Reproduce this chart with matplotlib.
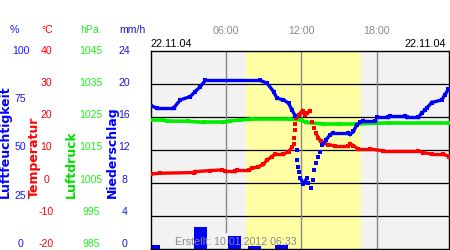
import numpy as np
import matplotlib
matplotlib.use("Agg")
import matplotlib.pyplot as plt
from matplotlib.collections import LineCollection

# ---------------- data ----------------
date_label = "22.11.04"
created_label = "Erstellt: 10.01.2012 06:33"
time_ticks = [6, 12, 18]
time_labels = ["06:00", "12:00", "18:00"]
daylight = (7.62, 16.76)

hum_ticks = [0, 25, 50, 75, 100]
temp_ticks = [-20, -10, 0, 10, 20, 30, 40]
pres_ticks = [985, 995, 1005, 1015, 1025, 1035, 1045]
rain_ticks = [0, 4, 8, 12, 16, 20, 24]

hum_h = [0.04, 0.52, 1.84, 2.37, 3.16, 3.56, 3.96, 4.36, 8.73, 9.26, 9.79, 10.06, 10.58,
         10.98, 11.25, 11.51, 11.65, 11.69, 11.77, 11.85, 11.93, 12.17, 12.44, 12.57, 12.76,
         12.89, 13.02, 13.18, 13.36, 13.5, 13.68, 13.97, 14.29, 14.55, 15.75, 15.88, 16.14,
         16.41, 16.68, 16.94, 17.87, 18.0, 18.93, 19.06, 20.25, 20.39, 21.31, 21.58, 21.84,
         21.98, 22.38, 23.17, 23.43, 23.7]
hum_v = [72.1, 71.0, 71.0, 75.1, 76.8, 79.3, 81.8, 84.9, 84.9, 83.6, 79.3, 76.0, 75.1,
         73.5, 70.1, 67.1, 49.9, 44.9, 41.5, 38.7, 35.7, 32.8, 35.7, 33.1, 30.6,
         34.8, 39.8, 43.2, 46.5, 49.1, 52.4, 55.0, 57.5, 58.6, 58.6, 57.8, 59.2,
         62.5, 63.9, 64.7, 64.7, 66.4, 66.4, 67.1, 67.1, 66.4, 66.4, 68.4, 70.1,
         71.0, 73.8, 75.1, 77.7, 80.5]

temp_h = [0.04, 0.78, 3.43, 3.56, 4.75, 5.68, 5.95, 6.74, 6.88, 7.8, 8.07, 8.59, 8.99, 9.26,
          9.66, 9.92, 10.58, 10.98, 11.25, 11.38, 11.45, 11.49, 11.53, 11.6, 11.78, 12.1,
          12.28, 12.48, 12.66, 12.85, 13.0, 13.16, 13.36, 13.55, 13.76, 14.16, 14.69, 15.75,
          15.88, 16.14, 16.54, 17.47, 18.53, 21.31, 21.71, 22.38, 23.3, 23.77]
temp_v = [2.7, 2.9, 3.1, 3.4, 3.7, 3.9, 3.5, 3.5, 3.9, 3.9, 4.4, 4.9, 5.6, 6.9,
          7.9, 8.7, 8.7, 9.4, 10.7, 11.7, 13.5, 16.0, 17.8, 19.5, 20.5, 21.8,
          20.5, 21.1, 21.8, 18.5, 16.5, 15.0, 13.5, 12.5, 12.0, 11.5, 11.2, 11.2,
          11.8, 11.2, 10.2, 10.2, 9.7, 9.7, 9.1, 8.7, 8.7, 7.9]

pres_h = [0.04, 1.0, 1.3, 3.0, 4.22, 5.81, 6.34, 7.14, 8.07, 11.0, 12.0, 12.34, 13.76,
          15.0, 16.4, 17.6, 19.0, 23.75]
pres_v = [1024.0, 1024.0, 1023.7, 1023.6, 1023.3, 1023.3, 1023.7, 1024.0, 1024.3, 1024.3,
          1024.0, 1023.3, 1022.8, 1022.8, 1022.8, 1023.0, 1023.1, 1023.1]

rain_h = [0.26, 4.0, 6.7, 8.25, 10.4]
rain_v = [0.5, 2.7, 1.6, 0.4, 0.45]

# ---------------- style ----------------
W, H = 450, 250
REG = "Liberation Sans"
BLUE = "#0000ff"
RED = "#ff0000"
GREEN = "#00ee00"
GRAY_TXT = "#8a8a8a"
XMAX = 23.75

fig = plt.figure(figsize=(W / 100, H / 100), dpi=100)
fig.patch.set_facecolor("white")

ax_l, ax_r, ax_t, ax_b = 150.5, 449.0, 50.5, 249.0
ax = fig.add_axes([ax_l / W, (H - ax_b) / H, (ax_r - ax_l) / W, (ax_b - ax_t) / H])
ax.set_facecolor("#f2f2f2")
ax.set_xlim(0, XMAX)
ax.set_ylim(rain_ticks[0], rain_ticks[-1])
ax.axvspan(*daylight, color="#ffffa3", lw=0, zorder=0.5)
for v in rain_ticks[1:-1]:
    ax.axhline(v, color="black", lw=0.9, zorder=1)
for t in time_ticks:
    ax.axvline(t, color="#888888", lw=1.0, zorder=1.1, ymin=0.086 if t == 6 else 0)
ax.bar(rain_h, rain_v, width=1.05, color=BLUE, zorder=2, lw=0)
for s in ax.spines.values():
    s.set_color("black")
    s.set_linewidth(1.0)
ax.set_yticks([])
ax.xaxis.tick_top()
ax.set_xticks(time_ticks)
ax.set_xticklabels(time_labels)
ax.tick_params(axis="x", length=0, pad=10.3, labelsize=7.7, labelcolor=GRAY_TXT)
for lb in ax.get_xticklabels():
    lb.set_fontfamily(REG)


def twin(lo, hi):
    a = ax.twinx()
    a.set_ylim(lo, hi)
    a.set_xlim(0, XMAX)
    a.set_axis_off()
    return a


def draw_series(a, hx, vy, color, lo, hi, lw=2.4):
    hx = np.asarray(hx, float)
    vy = np.asarray(vy, float)
    px_x = (ax_r - ax_l) / XMAX
    px_y = (ax_b - ax_t) / (hi - lo)
    dx = np.diff(hx) * px_x
    dy = np.abs(np.diff(vy)) * px_y
    keep = ~((dy > 2 * dx) & (dy > 3))
    segs = [[(hx[i], vy[i]), (hx[i + 1], vy[i + 1])] for i in range(len(hx) - 1) if keep[i]]
    a.add_collection(LineCollection(segs, colors=color, linewidths=lw, capstyle="projecting"))
    a.plot(hx, vy, "s", ms=lw, color=color, mew=0)


ax_p = twin(pres_ticks[0], pres_ticks[-1])
draw_series(ax_p, pres_h, pres_v, GREEN, pres_ticks[0], pres_ticks[-1], lw=2.6)
ax_tm = twin(temp_ticks[0], temp_ticks[-1])
draw_series(ax_tm, temp_h, temp_v, RED, temp_ticks[0], temp_ticks[-1])
ax_hm = twin(hum_ticks[0], hum_ticks[-1])
draw_series(ax_hm, hum_h, hum_v, BLUE, hum_ticks[0], hum_ticks[-1])

# ---------------- left scales ----------------
lab_top, lab_bot = 50.0, 243.0


def scale_column(cx, ticks, color):
    a = fig.add_axes([cx / W, (H - lab_bot) / H, 0.0001, (lab_bot - lab_top) / H])
    a.set_ylim(ticks[0], ticks[-1])
    a.set_yticks(ticks)
    a.set_yticklabels([str(t) for t in ticks])
    a.set_xticks([])
    a.patch.set_visible(False)
    for s in a.spines.values():
        s.set_visible(False)
    a.tick_params(axis="y", length=0, pad=0, labelsize=7.6, labelcolor=color)
    for lb in a.get_yticklabels():
        lb.set_ha("center")
        lb.set_fontfamily(REG)
    return a


scale_column(20.5, hum_ticks, "#1a1aff")
scale_column(46.5, temp_ticks, RED)
scale_column(91.0, pres_ticks, "#22ee22")
scale_column(124.5, rain_ticks, "#1a1acc")

hdr_y = (H - 30) / H
fig.text(14 / W, hdr_y, "%", color="#1a1aff", fontsize=7.6, family=REG, ha="center", va="center")
fig.text(47 / W, hdr_y, "°C", color=RED, fontsize=7.6, family=REG, ha="center", va="center")
fig.text(90 / W, hdr_y, "hPa", color="#22ee22", fontsize=7.6, family=REG, ha="center", va="center")
fig.text(132 / W, hdr_y, "mm/h", color="#1a1acc", fontsize=7.6, family=REG, ha="center", va="center")

rot_y = (H - 198) / H
for cx, txt, col in [(5.5, "Luftfeuchtigkeit", BLUE), (34, "Temperatur", RED),
                     (71, "Luftdruck", "#00dd00"), (112.5, "Niederschlag", BLUE)]:
    fig.text(cx / W, rot_y, txt, color=col, fontsize=9, family="DejaVu Sans", weight="bold",
             rotation=90, rotation_mode="anchor", ha="left", va="center")

# ---------------- date / created labels ----------------
fig.text(ax_l / W, (H - 47) / H, date_label, fontsize=7.8, family=REG, color="black",
         ha="left", va="baseline")
fig.text(446 / W, (H - 47) / H, date_label, fontsize=7.8, family=REG, color="black",
         ha="right", va="baseline")
fig.text(175 / W, (H - 245) / H, created_label, fontsize=7.7, family=REG, color=GRAY_TXT,
         ha="left", va="baseline", zorder=10)

fig.savefig("out.png", dpi=100)
